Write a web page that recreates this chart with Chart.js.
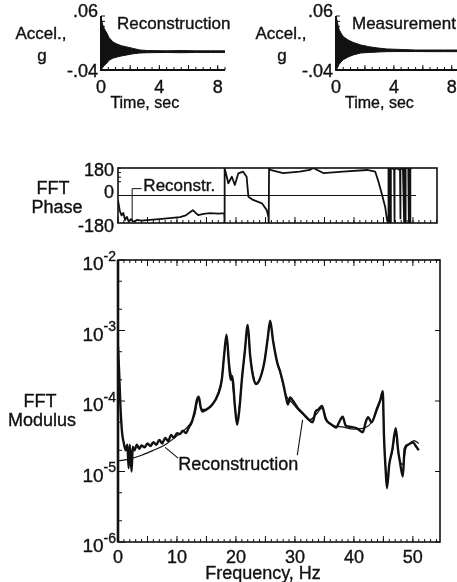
<!DOCTYPE html>
<html>
<head>
<meta charset="utf-8">
<title>FFT reconstruction</title>
<script src="https://cdn.jsdelivr.net/npm/chart.js@4.4.1/dist/chart.umd.min.js"></script>
<style>
  html, body { margin: 0; padding: 0; background: #fff; }
  body { width: 457px; height: 582px; overflow: hidden; position: relative; }
  canvas { position: absolute; left: 0; top: 0; }
</style>
</head>
<body>
<canvas id="accRecon" width="470" height="582"></canvas>
<canvas id="accMeas" width="470" height="582"></canvas>
<canvas id="phase" width="470" height="582"></canvas>
<canvas id="modulus" width="470" height="582"></canvas>
<script>
// ---- time histories (envelope of the decaying response, g) ----
const reconTime  = [0, 0.1, 0.2, 0.3, 0.41, 0.55, 0.82, 1.1, 1.4, 1.78, 2.2, 2.67, 3.2, 4.5, 5.5, 6.5, 7.5, 8.5];
const reconUpper = [0.06, 0.045, 0.038, 0.033, 0.028, 0.02, 0.012, 0.008, 0.005, 0.0026, 0, -0.003, -0.004, -0.0045, -0.004, -0.0045, -0.0045, -0.0045];
const reconLower = [-0.04, -0.036, -0.032, -0.03, -0.027, -0.022, -0.018, -0.016, -0.014, -0.012, -0.01, -0.0085, -0.008, -0.0075, -0.008, -0.0075, -0.0075, -0.0075];

const measTime  = [0, 0.1, 0.2, 0.34, 0.5, 0.83, 1.2, 1.72, 2.3, 2.9, 3.5, 4.5, 5.5, 6.5, 7.5, 8.6];
const measUpper = [0.06, 0.048, 0.036, 0.0285, 0.022, 0.0156, 0.011, 0.0063, 0.003, 0.0007, -0.001, -0.002, -0.003, -0.003, -0.003, -0.003];
const measLower = [-0.04, -0.036, -0.03, -0.0252, -0.021, -0.016, -0.012, -0.0085, -0.0075, -0.0067, -0.006, -0.0058, -0.0058, -0.006, -0.006, -0.006];

// ---- FFT phase, degrees ----
const phaseFreq = [
  0, 0.3, 0.6, 0.9, 1.2, 1.5, 1.8, 2.2, 2.6, 3.2,
  4.0, 5.4, 7.0, 8.3, 10.5, 11.5, 12.2, 12.7, 13.2, 13.6,
  14.5, 15.6, 17.0, 18.0, 18.05, 18.1, 18.7, 19.3, 19.8, 20.4,
  21.2, 21.8, 22.1, 22.9, 24.4, 25.2, 25.5, 25.55, 25.6, 25.8,
  28.0, 30.8, 32.5, 33.1, 34.8, 38.1, 42.2, 43.6, 44.1, 44.7,
  45.3, 45.6, 45.8, 45.85, 46.0, 46.05, 46.2, 46.25, 46.4, 46.8,
  46.85, 46.9, 47.3, 47.8, 47.85, 47.9, 48.3, 48.5, 48.55, 48.7,
  48.75, 49.2, 49.3, 49.35, 49.5, 49.55, 49.8
];
const phaseDeg = [
  -30, -100, -130, -115, -160, -140, -170, -155, -172, -160,
  -165, -160, -155, -150, -141, -130, -110, -96, -115, -128,
  -120, -115, -118, -115, -180, 178, 80, 123, 69, 145,
  156, 123, -8, -29, -51, -95, -139, -180, 180, 167,
  147, 156, 167, 180, 147, 156, 167, 156, 96, 13,
  -77, -161, -180, 180, -180, 180, -180, 175, 178, 170,
  -170, 172, 178, 165, -150, 175, 175, -180, 180, -180,
  180, 180, -180, 180, -180, 180, 178
];
const zeroFreq = [0, 50.5];
const zeroDeg = [0, 0];

// ---- FFT modulus, measured ----
const modFreq = [
  0, 0.2, 0.4, 0.7, 1.0, 1.3, 1.6, 1.8, 2.0, 2.3,
  2.5, 2.8, 3.2, 3.6, 4.0, 4.5, 5.0, 5.5, 6.0, 6.5,
  7.0, 7.5, 8.0, 8.5, 9.0, 9.5, 10.0, 10.5, 11.0, 11.5,
  12.0, 12.5, 13.0, 13.4, 13.7, 14.0, 14.3, 15.0, 16.0, 17.0,
  17.6, 18.0, 18.4, 18.8, 19.1, 19.4, 19.8, 20.2, 20.6, 21.0,
  21.5, 22.0, 22.4, 22.9, 23.4, 24.0, 24.8, 25.4, 25.8, 26.3,
  27.0, 27.5, 28.0, 28.5, 28.8, 29.2, 29.7, 30.5, 31.4, 32.2,
  33.0, 33.5, 34.0, 34.6, 35.2, 35.9, 36.4, 37.0, 37.5, 38.1,
  38.6, 39.5, 40.5, 41.5, 42.0, 42.4, 43.0, 43.9, 44.5, 44.9,
  45.1, 45.4, 45.6, 46.0, 46.5, 47.1, 47.5, 47.8, 48.3, 48.6,
  49.2, 50.0, 50.5, 51.0
];
const modMeas = [
  5.9e-4, 2.5e-4, 8.9e-5, 3.5e-5, 2.5e-5, 2.0e-5, 2.4e-5, 1.12e-5, 2.4e-5, 1.0e-5,
  2.24e-5, 2.0e-5, 2.4e-5, 2.1e-5, 2.34e-5, 2.2e-5, 2.5e-5, 2.3e-5, 2.6e-5, 2.4e-5,
  2.8e-5, 2.5e-5, 3.0e-5, 2.7e-5, 3.3e-5, 3.0e-5, 3.5e-5, 3.4e-5, 3.8e-5, 3.5e-5,
  4.2e-5, 5.0e-5, 7.1e-5, 1.05e-4, 1.15e-4, 8.3e-5, 7.1e-5, 7.6e-5, 8.9e-5, 1.26e-4,
  2.0e-4, 4.5e-4, 8.7e-4, 3.5e-4, 2.0e-4, 2.24e-4, 8.9e-5, 4.6e-5, 7.9e-5, 2.0e-4,
  5.0e-4, 1.2e-3, 4.5e-4, 2.24e-4, 1.74e-4, 2.0e-4, 3.5e-4, 7.9e-4, 1.38e-3, 7.1e-4,
  3.5e-4, 2.6e-4, 1.78e-4, 1.12e-4, 8.9e-5, 1.12e-4, 1.0e-4, 7.9e-5, 6.6e-5, 5.6e-5,
  5.0e-5, 7.1e-5, 7.6e-5, 8.5e-5, 5.6e-5, 4.8e-5, 4.5e-5, 4.2e-5, 5.0e-5, 6.0e-5,
  4.5e-5, 4.3e-5, 4.1e-5, 3.6e-5, 5.0e-5, 5.9e-5, 5.0e-5, 7.8e-5, 1.05e-4, 1.38e-4,
  3.2e-5, 1.0e-5, 5.8e-6, 1.26e-5, 2.0e-5, 4.1e-5, 2.0e-5, 1.38e-5, 8.5e-6, 2.1e-5,
  2.4e-5, 2.6e-5, 2.3e-5, 2.0e-5
];

// ---- FFT modulus, reconstruction ----
const recFreq = [
  0, 2, 4, 6, 8, 10, 11, 12, 13, 13.6,
  14.2, 15, 16, 17, 17.6, 18, 18.4, 18.8, 19.3, 19.8,
  20.2, 20.6, 21, 21.5, 22, 22.4, 22.9, 23.4, 24, 24.8,
  25.4, 25.8, 26.3, 27, 27.5, 28, 28.5, 29.5, 30.5, 31.5,
  32.5, 33.5, 34.6, 35.5, 36.5, 38, 40, 42, 43, 44,
  44.5, 44.9, 45.1, 45.4, 45.6, 46, 46.5, 47.1, 47.5, 47.8,
  48.3, 48.8, 49.5, 50.2, 51
];
const recMod = [
  1.41e-5, 1.51e-5, 1.7e-5, 2.0e-5, 2.4e-5, 3.2e-5, 3.7e-5, 4.5e-5, 6.3e-5, 1.05e-4,
  7.6e-5, 7.6e-5, 8.9e-5, 1.32e-4, 2.1e-4, 4.5e-4, 8.3e-4, 3.5e-4, 2.1e-4, 8.9e-5,
  5.0e-5, 8.9e-5, 2.0e-4, 5.0e-4, 1.12e-3, 4.5e-4, 2.4e-4, 1.78e-4, 2.0e-4, 3.5e-4,
  7.9e-4, 1.26e-3, 7.1e-4, 3.5e-4, 2.5e-4, 1.7e-4, 1.2e-4, 9.5e-5, 7.6e-5, 6.3e-5,
  5.4e-5, 6.3e-5, 7.9e-5, 5.2e-5, 4.5e-5, 4.3e-5, 4.0e-5, 4.2e-5, 5.0e-5, 7.6e-5,
  1.0e-4, 1.26e-4, 3.2e-5, 1.0e-5, 6.3e-6, 1.26e-5, 1.9e-5, 3.5e-5, 1.9e-5, 1.41e-5,
  1.26e-5, 2.1e-5, 2.5e-5, 2.75e-5, 2.5e-5
];

// ---- tick labels ----
const timeTicks = [0, 4, 8];
const accelTickVals = [0.06, -0.04];
const accelTickText = ['.06', '-.04'];
const phaseTicks = [180, 0, -180];
const modExps = [-2, -3, -4, -5, -6];
const freqTicks = [0, 10, 20, 30, 40, 50];

const FONT = '"Liberation Sans", Arial, Helvetica, sans-serif';
const INK = '#111';

function pts(xs, ys) {
  const n = Math.min(xs.length, ys.length);
  const out = [];
  for (let i = 0; i < n; i++) out.push({ x: xs[i], y: ys[i] });
  return out;
}

function range(a, b, step) {
  const out = [];
  const n = Math.round((b - a) / step);
  for (let i = 0; i <= n; i++) out.push(a + i * step);
  return out;
}

// scanned lettering is a bit heavy, so fill plus a hairline stroke
function text(ctx, s, x, y, size, align) {
  ctx.font = size + 'px ' + FONT;
  ctx.textAlign = align || 'left';
  ctx.textBaseline = 'middle';
  ctx.fillStyle = INK;
  ctx.fillText(s, x, y);
  ctx.save();
  ctx.lineWidth = 0.35;
  ctx.strokeStyle = INK;
  ctx.strokeText(s, x, y);
  ctx.restore();
}

// inward tick marks drawn through the chart's own scale
function ticks(ctx, scale, axis, pos, vals, len, dir) {
  ctx.beginPath();
  vals.forEach((v) => {
    const p = scale.getPixelForValue(v);
    if (axis === 'x') { ctx.moveTo(p, pos); ctx.lineTo(p, pos + dir * len); }
    else { ctx.moveTo(pos, p); ctx.lineTo(pos + dir * len, p); }
  });
  ctx.stroke();
}

function baseOptions(pad, xMin, xMax, yScale) {
  return {
    responsive: false,
    animation: false,
    events: [],
    layout: { padding: pad },
    plugins: { legend: { display: false }, tooltip: { enabled: false } },
    elements: { point: { radius: 0 }, line: { tension: 0, borderJoinStyle: 'round' } },
    scales: {
      x: { type: 'linear', min: xMin, max: xMax, display: false },
      y: Object.assign({ display: false }, yScale),
    },
  };
}

// ---- the two acceleration histories ----
function accelChart(id, pad, time, upper, lower, title, ylabX) {
  new Chart(document.getElementById(id), {
    type: 'line',
    data: {
      datasets: [
        { data: pts(time, upper), borderColor: INK, borderWidth: 1, backgroundColor: INK, fill: '+1' },
        { data: pts(time, lower), borderColor: INK, borderWidth: 1, fill: false },
      ],
    },
    options: baseOptions(pad, 0, 8.5, { type: 'linear', min: -0.04, max: 0.06 }),
    plugins: [{
      id: 'accelFrame',
      afterDatasetsDraw(chart) {
        const { ctx, chartArea: a, scales: { x, y } } = chart;
        ctx.save();
        ctx.strokeStyle = INK;
        ctx.lineWidth = 2;
        ctx.beginPath();
        ctx.moveTo(a.left, a.top); ctx.lineTo(a.left, a.bottom); ctx.lineTo(a.right, a.bottom);
        ctx.stroke();
        ctx.lineWidth = 1;
        ticks(ctx, x, 'x', a.bottom, range(0, 8.5, 0.5), 3, -1);
        ticks(ctx, x, 'x', a.bottom, range(0, 8, 2), 5, -1);
        ticks(ctx, y, 'y', a.left, range(0.03, 0.06, 0.01), 4, 1);
        accelTickVals.forEach((v, i) => text(ctx, accelTickText[i], a.left - 3, y.getPixelForValue(v) + (i ? 2 : -4), 18, 'right'));
        timeTicks.forEach((t) => text(ctx, String(t), x.getPixelForValue(t), a.bottom + 18, 18, 'center'));
        text(ctx, 'Time, sec', x.getPixelForValue(3), a.bottom + 34, 16, 'center');
        text(ctx, 'Accel.,', ylabX, 34, 17, 'center');
        text(ctx, 'g', ylabX + 1, 56, 17, 'center');
        text(ctx, title, a.left + 16, 24, 17, 'left');
        ctx.restore();
      },
    }],
  });
}

accelChart('accRecon', { left: 101, top: 16, right: 470 - 225, bottom: 582 - 70 },
  reconTime, reconUpper, reconLower, 'Reconstruction', 41);
accelChart('accMeas', { left: 336, top: 16, right: 470 - 459, bottom: 582 - 70 },
  measTime, measUpper, measLower, 'Measurement', 281);

// ---- FFT phase ----
new Chart(document.getElementById('phase'), {
  type: 'line',
  data: {
    datasets: [
      { data: pts(zeroFreq, zeroDeg), borderColor: INK, borderWidth: 1.2, fill: false },
      { data: pts(phaseFreq, phaseDeg), borderColor: INK, borderWidth: 1.8, fill: false },
    ],
  },
  options: baseOptions({ left: 118, top: 168, right: 470 - 437, bottom: 582 - 223 }, 0, 54.07,
    { type: 'linear', min: -180, max: 180 }),
  plugins: [{
    id: 'phaseFrame',
    afterDatasetsDraw(chart) {
      const { ctx, chartArea: a, scales: { x, y } } = chart;
      ctx.save();
      ctx.strokeStyle = INK;
      ctx.lineWidth = 1.6;
      ctx.strokeRect(a.left, a.top, a.right - a.left, a.bottom - a.top);
      ctx.lineWidth = 1;
      ticks(ctx, x, 'x', a.bottom, range(0, 54, 1), 3, -1);
      ticks(ctx, x, 'x', a.bottom, range(0, 50, 5), 6, -1);
      ticks(ctx, y, 'y', a.left, range(90, 180, 30), 3, 1);
      phaseTicks.forEach((v, i) => text(ctx, String(v), a.left - 4, y.getPixelForValue(v) + [3, -2, 4][i], 18, 'right'));
      text(ctx, 'FFT', 53, 189, 18, 'center');
      text(ctx, 'Phase', 57, 208, 18, 'center');
      // "Reconstr." callout
      const lx = x.getPixelForValue(2.4);
      const ly = y.getPixelForValue(45);
      ctx.beginPath();
      ctx.moveTo(x.getPixelForValue(4.0), ly);
      ctx.lineTo(lx, ly);
      ctx.lineTo(lx, y.getPixelForValue(-168));
      ctx.stroke();
      text(ctx, 'Reconstr.', x.getPixelForValue(4.3), 186, 17, 'left');
      ctx.restore();
    },
  }],
});

// ---- FFT modulus ----
new Chart(document.getElementById('modulus'), {
  type: 'line',
  data: {
    datasets: [
      { data: pts(recFreq, recMod), borderColor: INK, borderWidth: 1.2, fill: false, cubicInterpolationMode: 'monotone' },
      { data: pts(modFreq, modMeas), borderColor: INK, borderWidth: 2.4, fill: false, cubicInterpolationMode: 'monotone' },
    ],
  },
  options: baseOptions({ left: 118, top: 260, right: 470 - 440, bottom: 582 - 542 }, 0, 54.6,
    { type: 'logarithmic', min: 1e-6, max: 1e-2 }),
  plugins: [{
    id: 'modFrame',
    afterDatasetsDraw(chart) {
      const { ctx, chartArea: a, scales: { x, y } } = chart;
      ctx.save();
      ctx.strokeStyle = INK;
      ctx.lineWidth = 1.6;
      ctx.strokeRect(a.left, a.top, a.right - a.left, a.bottom - a.top);
      ctx.lineWidth = 2.6;
      ctx.beginPath(); ctx.moveTo(a.left, a.top); ctx.lineTo(a.left, a.bottom); ctx.stroke();
      ctx.lineWidth = 1;
      ticks(ctx, x, 'x', a.bottom, range(0, 54, 1), 3, -1);
      ticks(ctx, x, 'x', a.bottom, range(0, 50, 5), 6, -1);
      ticks(ctx, x, 'x', a.top, range(0, 54, 1), 3, 1);
      ticks(ctx, x, 'x', a.top, range(0, 50, 5), 6, 1);
      const decades = modExps.map((e) => Math.pow(10, e));
      const minors = [];
      decades.slice(1).forEach((d) => { minors.push(2 * d, 5 * d); });
      ticks(ctx, y, 'y', a.left, decades, 7, 1);
      ticks(ctx, y, 'y', a.left, minors, 4, 1);
      ticks(ctx, y, 'y', a.right, decades, 5, -1);
      // 10^n tick labels
      modExps.forEach((e, i) => {
        const p = y.getPixelForValue(decades[i]);
        const sup = String(e);
        ctx.font = '14px ' + FONT;
        const w = ctx.measureText(sup).width;
        text(ctx, sup, a.left - 2, p - 3, 14, 'right');
        text(ctx, '10', a.left - 2 - w, p + 5, 19, 'right');
      });
      freqTicks.forEach((f) => text(ctx, String(f), x.getPixelForValue(f), a.bottom + 16, 18, 'center'));
      text(ctx, 'Frequency, Hz', 263, 574, 18, 'center');
      text(ctx, 'FFT', 40, 402, 18, 'center');
      text(ctx, 'Modulus', 42, 421, 18, 'center');
      // "Reconstruction" callout with two leaders
      ctx.lineWidth = 1.1;
      ctx.beginPath();
      ctx.moveTo(x.getPixelForValue(8.0), y.getPixelForValue(2.2e-5));
      ctx.lineTo(x.getPixelForValue(10.2), y.getPixelForValue(1.55e-5));
      ctx.moveTo(x.getPixelForValue(30.4), y.getPixelForValue(1.7e-5));
      ctx.lineTo(x.getPixelForValue(31.3), y.getPixelForValue(5.4e-5));
      ctx.stroke();
      text(ctx, 'Reconstruction', x.getPixelForValue(10.2), 465, 18, 'left');
      ctx.restore();
    },
  }],
});
</script>
</body>
</html>
